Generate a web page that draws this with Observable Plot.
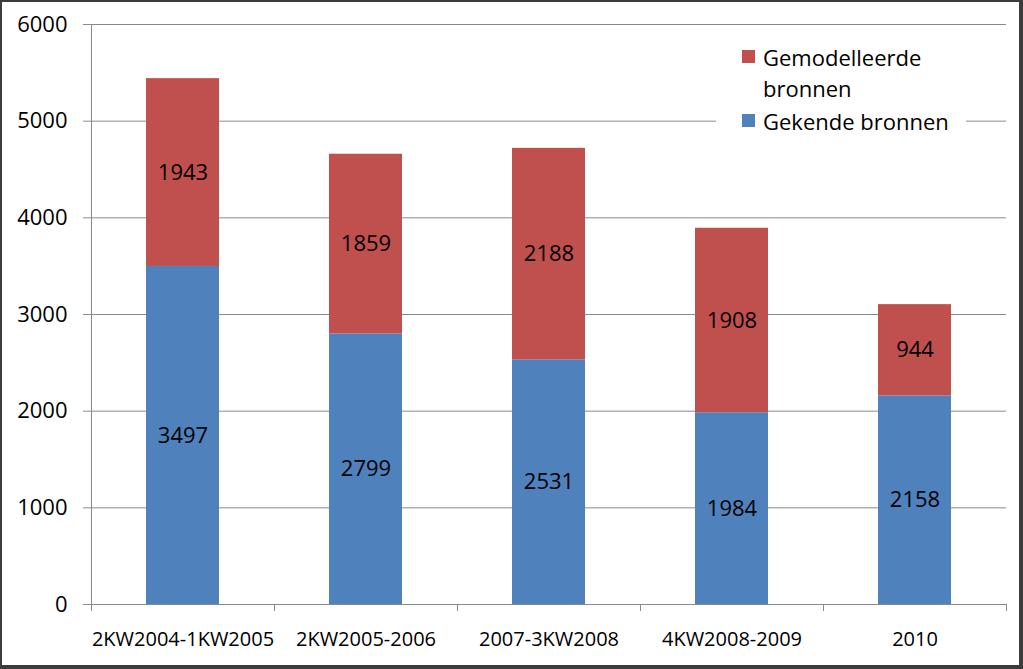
<!DOCTYPE html>
<html>
<head>
<meta charset="utf-8">
<script src="https://cdn.jsdelivr.net/npm/d3@7"></script>
<script src="https://cdn.jsdelivr.net/npm/@observablehq/plot@0.6"></script>
<style>
  html, body { margin: 0; padding: 0; background: white; }
  #wrap { position: relative; width: 1023px; height: 669px; overflow: hidden; font-family: "Open Sans", sans-serif; }
  #frame { position: absolute; left: 0; top: 0; width: 1023px; height: 669px; box-sizing: border-box;
           border-style: solid; border-color: #3c3c3c; border-width: 2px 4px 4px 2px; pointer-events: none; }
  #legend { position: absolute; left: 716px; top: 38px; width: 250px; height: 100px; background: white;
            font-size: 22px; color: #000; }
  .item { position: absolute; left: 47px; line-height: 31px; }
  .sw { position: absolute; width: 13px; height: 13px; left: 26px; }
</style>
</head>
<body>
<div id="wrap">
  <div id="chart"></div>
  <div id="legend"></div>
  <div id="frame"></div>
</div>
<script>
const categories = ["2KW2004-1KW2005", "2KW2005-2006", "2007-3KW2008", "4KW2008-2009", "2010"];
const seriesNames = ["Gekende bronnen", "Gemodelleerde bronnen"];
const gekende = [3497, 2799, 2531, 1984, 2158];
const gemodelleerde = [1943, 1859, 2188, 1908, 944];
const yTicks = [0, 1000, 2000, 3000, 4000, 5000, 6000];
const colors = ["#4F81BD", "#C0504D"];

const rows = [];
categories.forEach((c, i) => rows.push({cat: c, series: seriesNames[0], value: gekende[i]}));
categories.forEach((c, i) => rows.push({cat: c, series: seriesNames[1], value: gemodelleerde[i]}));

const W = 1023, H = 669, mL = 91, mR = 17, mT = 24, mB = 65;
const step = (W - mL - mR) / categories.length;
const gray = "#8a8a8a";

const chart = Plot.plot({
  width: W, height: H,
  marginLeft: mL, marginRight: mR, marginTop: mT, marginBottom: mB,
  style: {fontFamily: "Open Sans", fontSize: "21px", color: "#000", background: "white"},
  x: {domain: categories, paddingInner: 0.6, paddingOuter: 0.3, label: null},
  y: {domain: [0, 6000], label: null},
  color: {domain: seriesNames, range: colors},
  marks: [
    Plot.gridY(yTicks, {stroke: gray, strokeOpacity: 1}),
    Plot.ruleX([categories[0]], {x: d => d, dx: -step / 2, stroke: gray}),
    Plot.barY(rows, {x: "cat", y: "value", fill: "series"}),
    Plot.text(rows, Plot.stackY({x: "cat", y: "value", z: "series", text: d => String(d.value), fill: "#000", fontSize: 22})),
    Plot.ruleY([0], {stroke: gray}),
    Plot.ruleX(categories, {x: d => d, y1: 0, y2: 0, dx: -step / 2, insetBottom: -7, stroke: gray}),
    Plot.ruleX([categories[categories.length - 1]], {x: d => d, y1: 0, y2: 0, dx: step / 2, insetBottom: -7, stroke: gray}),
    Plot.axisY(yTicks, {tickSize: 8, tickPadding: 16, tickFormat: d => String(d), stroke: gray, fontSize: 22}),
    Plot.axisX({tickSize: 0, tickPadding: 27, fontSize: 20})
  ]
});
document.getElementById("chart").appendChild(chart);

// legend
const legend = document.getElementById("legend");
const items = [
  {name: "Gemodelleerde<br>bronnen", color: colors[1], top: 4},
  {name: "Gekende bronnen", color: colors[0], top: 68}
];
items.forEach(it => {
  const sw = document.createElement("div");
  sw.className = "sw";
  sw.style.background = it.color;
  sw.style.top = (it.top + 8) + "px";
  legend.appendChild(sw);
  const t = document.createElement("div");
  t.className = "item";
  t.style.top = it.top + "px";
  t.innerHTML = it.name;
  legend.appendChild(t);
});
</script>
</body>
</html>
